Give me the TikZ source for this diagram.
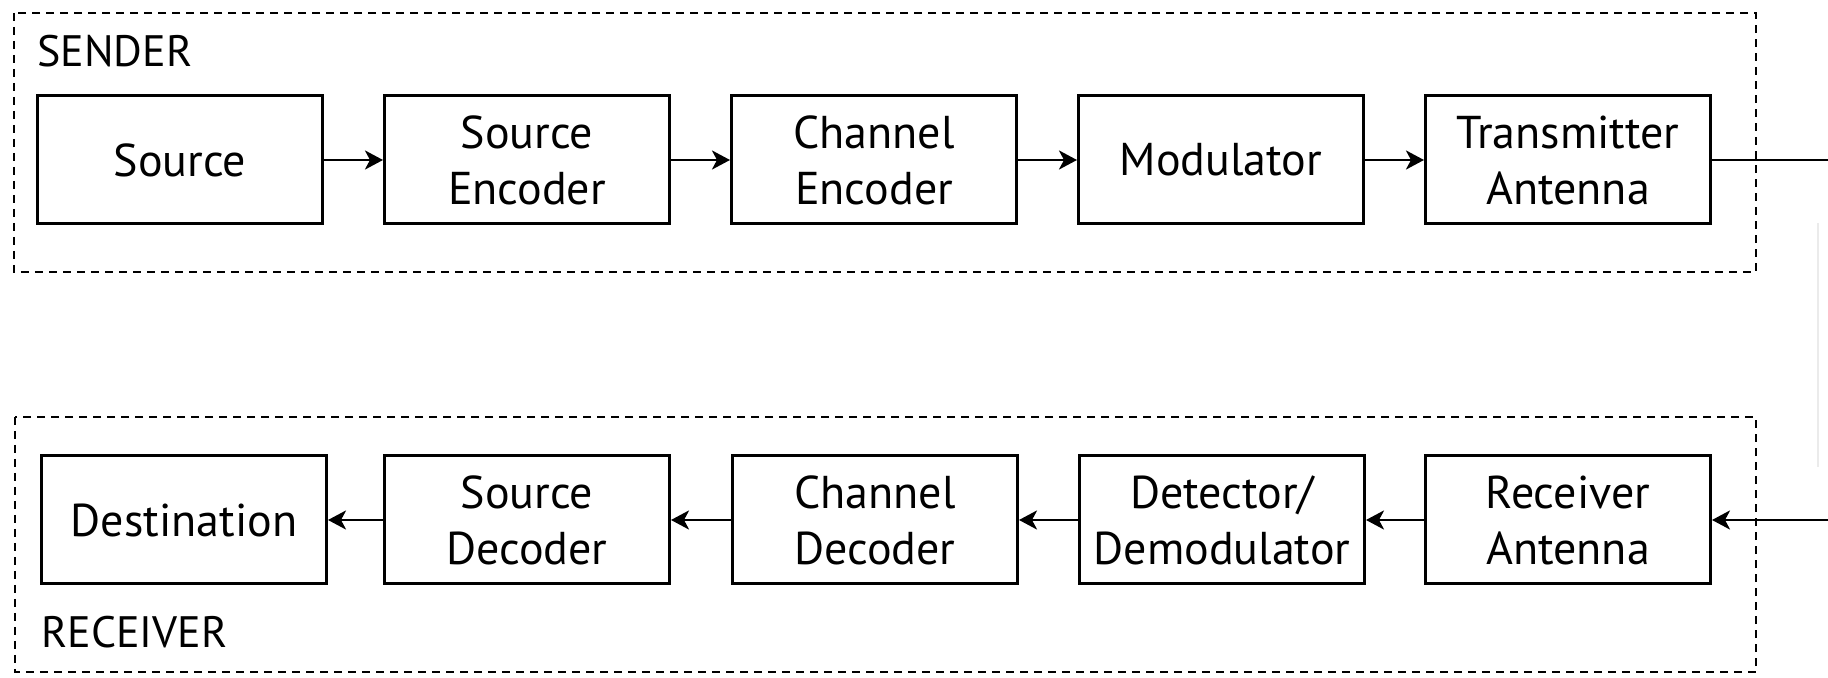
\documentclass[tikz,border=0pt]{standalone}
\usepackage{fontspec}
\setmainfont{PT Sans}
\usetikzlibrary{arrows.meta}

\tikzset{
  block/.style = {draw, line width=1.5pt, minimum width=142.5pt, minimum height=64pt,
    align=center, inner sep=0pt, font=\fontsize{23}{28}\selectfont},
  flow/.style = {line width=1.4pt, -{Stealth[length=9pt, width=9.5pt, inset=2.5pt]}},
  group/.style = {line width=1.3pt, dash pattern=on 4pt off 3pt},
  grouplabel/.style = {anchor=base west, inner sep=0pt, font=\fontsize{22}{26}\selectfont}
}

\begin{document}
\begin{tikzpicture}[x=0.5pt, y=-0.5pt]
\useasboundingbox (0,0) rectangle (1828,678);

% sender side
\draw[group] (14,13) rectangle (1756,272);
\node[grouplabel] (sender) at (37,67) {SENDER};
\node[block] (src) at (180,160) {Source};
\node[block] (srcenc) at (527,160) {Source\\Encoder};
\node[block] (chenc) at (874,160) {Channel\\Encoder};
\node[block] (mod) at (1221,160) {Modulator};
\node[block] (txant) at (1568,160) {Transmitter\\Antenna};

% receiver side
\draw[group] (15,417) rectangle (1756,672);
\node[grouplabel] (receiver) at (41,648) {RECEIVER};
\node[block] (dest) at (184,520) {Destination};
\node[block] (srcdec) at (527,520) {Source\\Decoder};
\node[block] (chdec) at (875,520) {Channel\\Decoder};
\node[block] (demod) at (1222,520) {Detector/\\Demodulator};
\node[block] (rxant) at (1568,520) {Receiver\\Antenna};

% channel
\coordinate (txend) at (1828,160);
\coordinate (rxbeg) at (1828,520);
\draw[black!8, line width=1pt] (1818,223) -- (1818,467);

\draw[flow] (src) -- (srcenc);
\draw[flow] (srcenc) -- (chenc);
\draw[flow] (chenc) -- (mod);
\draw[flow] (mod) -- (txant);
\draw[line width=1.4pt] (txant) -- (txend);

\draw[flow] (rxbeg) -- (rxant);
\draw[flow] (rxant) -- (demod);
\draw[flow] (demod) -- (chdec);
\draw[flow] (chdec) -- (srcdec);
\draw[flow] (srcdec) -- (dest);
\end{tikzpicture}
\end{document}
